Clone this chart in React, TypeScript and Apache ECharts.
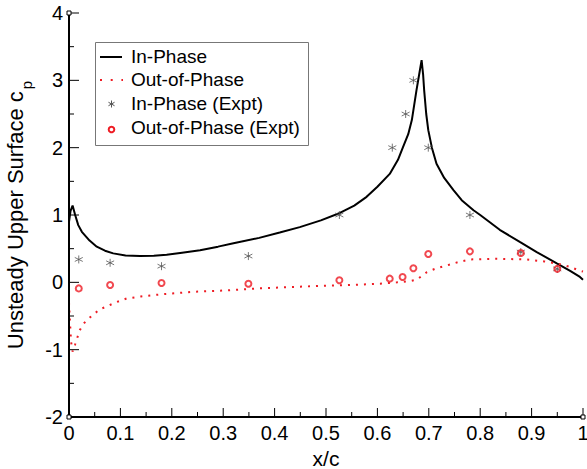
import React, { useEffect, useRef } from "react";
import * as echarts from "echarts";

const FONT = "'Liberation Sans', Arial, Helvetica, sans-serif";

// Axis ranges and tick values
const X_MIN = 0;
const X_MAX = 1;
const Y_MIN = -2;
const Y_MAX = 4;
const xMajorTicks = [0, 0.1, 0.2, 0.3, 0.4, 0.5, 0.6, 0.7, 0.8, 0.9, 1];
const xMinorTicks = [0.05, 0.15, 0.25, 0.35, 0.45, 0.55, 0.65, 0.75, 0.85, 0.95];
const yMajorTicks = [-2, -1, 0, 1, 2, 3, 4];
const yMinorTicks = [-1.5, -0.5, 0.5, 1.5, 2.5, 3.5];

// In-Phase (computed) curve: [x/c, cp]
const inPhaseX = [0, 0.003, 0.007, 0.012, 0.018, 0.025, 0.04, 0.054, 0.07, 0.086, 0.11, 0.138, 0.165, 0.19, 0.22, 0.255, 0.29, 0.32, 0.37, 0.41, 0.449, 0.49, 0.527, 0.555, 0.579, 0.6, 0.624, 0.64, 0.65, 0.66, 0.667, 0.676, 0.682, 0.686, 0.689, 0.691, 0.695, 0.699, 0.706, 0.715, 0.73, 0.748, 0.764, 0.787, 0.8, 0.838, 0.877, 0.91, 0.949, 0.975, 0.994, 1.0];
const inPhaseY = [0.9, 1.06, 1.14, 1.0, 0.85, 0.75, 0.62, 0.53, 0.47, 0.43, 0.4, 0.39, 0.395, 0.41, 0.44, 0.475, 0.53, 0.58, 0.66, 0.74, 0.82, 0.92, 1.03, 1.14, 1.27, 1.42, 1.61, 1.82, 2.01, 2.2, 2.41, 2.85, 3.12, 3.3, 3.08, 2.85, 2.5, 2.26, 2.0, 1.76, 1.55, 1.37, 1.22, 1.07, 1.0, 0.78, 0.6, 0.45, 0.28, 0.17, 0.08, 0.04];

// Out-of-Phase (computed) curve
const outPhaseX = [0, 0.002, 0.004, 0.007, 0.012, 0.021, 0.03, 0.041, 0.06, 0.073, 0.09, 0.112, 0.14, 0.177, 0.21, 0.242, 0.307, 0.37, 0.43, 0.5, 0.56, 0.605, 0.638, 0.665, 0.677, 0.687, 0.696, 0.715, 0.735, 0.757, 0.78, 0.832, 0.89, 0.925, 0.955, 0.975, 0.991, 1.0];
const outPhaseY = [-0.3, -0.6, -0.88, -1.03, -0.92, -0.71, -0.6, -0.52, -0.4, -0.36, -0.3, -0.24, -0.21, -0.18, -0.16, -0.14, -0.12, -0.09, -0.07, -0.05, -0.035, -0.02, 0.0, 0.02, 0.04, 0.1, 0.15, 0.21, 0.25, 0.3, 0.34, 0.35, 0.34, 0.31, 0.27, 0.23, 0.18, 0.16];

// Experimental In-Phase
const exptInX = [0.019, 0.08, 0.18, 0.349, 0.526, 0.629, 0.655, 0.67, 0.699, 0.78, 0.879, 0.95];
const exptInY = [0.34, 0.29, 0.24, 0.39, 1.0, 2.0, 2.5, 3.0, 2.0, 1.0, 0.45, 0.2];

// Experimental Out-of-Phase
const exptOutX = [0.019, 0.08, 0.18, 0.349, 0.526, 0.624, 0.649, 0.67, 0.699, 0.78, 0.879, 0.95];
const exptOutY = [-0.09, -0.04, -0.01, -0.02, 0.03, 0.055, 0.08, 0.21, 0.42, 0.46, 0.435, 0.2];

const legendNames = ["In-Phase", "Out-of-Phase", "In-Phase (Expt)", "Out-of-Phase (Expt)"];

const zip = (xs: number[], ys: number[]) => xs.map((x, i) => [x, ys[i]]);

const ASTERISK = "path://M5,0L5,10M0.67,2.5L9.33,7.5M0.67,7.5L9.33,2.5";
const RED = "#ee1c24";
const GREY = "#555555";

// Axis frame (lines + inside ticks) drawn through the chart's own scales, as thin filled rects
const renderAxes = (_params: any, api: any) => {
  const [x0, y0] = api.coord([X_MIN, Y_MIN]);
  const [x1] = api.coord([X_MAX, Y_MIN]);
  const [, y1] = api.coord([X_MIN, Y_MAX]);
  const black = { fill: "#000" };
  const children: any[] = [
    { type: "rect", shape: { x: x0 - 1, y: y0 - 1, width: x1 - x0 + 2, height: 2 }, style: black },
    { type: "rect", shape: { x: x0 - 1, y: y1, width: 2, height: y0 - y1 + 1 }, style: black },
  ];
  xMajorTicks.forEach((v) => {
    const px = api.coord([v, Y_MIN])[0];
    children.push({ type: "rect", shape: { x: px - 0.5, y: y0 - 9, width: 1, height: 9 }, style: black });
  });
  xMinorTicks.forEach((v) => {
    const px = api.coord([v, Y_MIN])[0];
    children.push({ type: "rect", shape: { x: px - 0.5, y: y0 - 5, width: 1, height: 5 }, style: black });
  });
  yMajorTicks.forEach((v) => {
    const py = api.coord([X_MIN, v])[1];
    children.push({ type: "rect", shape: { x: x0, y: py - 0.5, width: 10, height: 1 }, style: black });
  });
  yMinorTicks.forEach((v) => {
    const py = api.coord([X_MIN, v])[1];
    children.push({ type: "rect", shape: { x: x0, y: py - 0.5, width: 5, height: 1 }, style: black });
  });
  // small open squares at the axis ends
  [[x0, y1], [x0, y0], [x1, y0]].forEach(([cx, cy]) => {
    children.push({ type: "rect", shape: { x: cx - 2, y: cy - 2, width: 4, height: 4 }, style: { fill: "#fff", stroke: "#000", lineWidth: 1 } });
  });
  return { type: "group", children };
};

export default function App() {
  const ref = useRef<HTMLDivElement>(null);
  useEffect(() => {
    if (!ref.current) return;
    const chart = echarts.init(ref.current, undefined, { renderer: "svg" });

    const lx = 100;
    const rowY = [57, 80, 104, 128];
    const ax = 111.5;
    const ar = 3.5;
    const ay = rowY[2];
    const graphic: any[] = [
      {
        type: "rect",
        shape: { x: 95.5, y: 42.5, width: 213, height: 103 },
        style: { fill: "#fff", stroke: "#777", lineWidth: 1 },
        z: 10,
      },
      {
        type: "line",
        shape: { x1: lx, y1: rowY[0], x2: lx + 22, y2: rowY[0] },
        style: { stroke: "#000", lineWidth: 2 },
        z: 11,
      },
      {
        type: "line",
        shape: { x1: lx, y1: rowY[1], x2: lx + 23, y2: rowY[1] },
        style: { stroke: RED, lineWidth: 2, lineDash: [2, 8.7] },
        z: 11,
      },
      { type: "line", z: 11, shape: { x1: ax, y1: ay - ar, x2: ax, y2: ay + ar }, style: { stroke: GREY, lineWidth: 1 } },
      { type: "line", z: 11, shape: { x1: ax - ar * 0.87, y1: ay - ar * 0.5, x2: ax + ar * 0.87, y2: ay + ar * 0.5 }, style: { stroke: GREY, lineWidth: 1 } },
      { type: "line", z: 11, shape: { x1: ax - ar * 0.87, y1: ay + ar * 0.5, x2: ax + ar * 0.87, y2: ay - ar * 0.5 }, style: { stroke: GREY, lineWidth: 1 } },
      {
        type: "circle",
        shape: { cx: ax, cy: rowY[3] + 1.5, r: 2.8 },
        style: { fill: "transparent", stroke: RED, lineWidth: 2 },
        z: 11,
      },
      ...legendNames.map((name, i) => ({
        type: "text",
        x: 131,
        y: [56.5, 79.5, 103, 127.5][i],
        z: 11,
        style: {
          text: name,
          fill: "#000",
          font: `19px ${FONT}`,
          verticalAlign: "middle",
          align: "left",
        },
      })),
    ];

    chart.setOption({
      animation: false,
      grid: { left: 69, right: 4, top: 13, bottom: 52, outerBoundsMode: "none" },
      xAxis: {
        type: "value",
        position: "bottom",
        min: X_MIN,
        max: X_MAX,
        interval: 0.1,
        name: "x/c",
        nameLocation: "middle",
        nameGap: 20,
        nameTextStyle: { fontFamily: FONT, fontSize: 21, color: "#000" },
        axisLine: { show: false, onZero: false },
        axisTick: { show: false },
        minorTick: { show: false },
        splitLine: { show: false },
        axisLabel: {
          margin: 6,
          fontFamily: FONT,
          fontSize: 20,
          color: "#000",
          formatter: (v: number) => (v === 0 ? "0" : v === 1 ? "1" : v.toFixed(1)),
        },
      },
      yAxis: {
        type: "value",
        position: "left",
        min: Y_MIN,
        max: Y_MAX,
        interval: 1,
        name: "{a|Unsteady Upper Surface c}{s|p}",
        nameLocation: "middle",
        nameRotate: 90,
        nameGap: 31,
        nameTextStyle: {
          color: "#000",
          rich: {
            a: { fontFamily: FONT, fontSize: 22, lineHeight: 22, verticalAlign: "top", color: "#000" },
            s: { fontFamily: FONT, fontSize: 15, lineHeight: 15, padding: [15, 0, 0, 2], verticalAlign: "top", color: "#000" },
          },
        },
        axisLine: { show: false, onZero: false },
        axisTick: { show: false },
        minorTick: { show: false },
        splitLine: { show: false },
        axisLabel: { margin: 6, fontFamily: FONT, fontSize: 20, color: "#000" },
      },
      series: [
        {
          name: legendNames[0],
          type: "line",
          data: zip(inPhaseX, inPhaseY),
          showSymbol: false,
          lineStyle: { color: "#000", width: 2 },
          z: 3,
        },
        {
          name: legendNames[1],
          type: "line",
          data: zip(outPhaseX, outPhaseY),
          showSymbol: false,
          lineStyle: { color: RED, width: 2, type: [2, 6] },
          z: 3,
        },
        {
          name: legendNames[2],
          type: "scatter",
          data: zip(exptInX, exptInY),
          symbol: ASTERISK,
          symbolSize: 8,
          itemStyle: { color: "transparent", borderColor: GREY, borderWidth: 1 },
          z: 4,
        },
        {
          name: legendNames[3],
          type: "scatter",
          data: zip(exptOutX, exptOutY),
          symbol: "circle",
          symbolSize: 6,
          itemStyle: { color: "transparent", borderColor: RED, borderWidth: 2 },
          z: 5,
        },
        {
          name: "axes",
          type: "custom",
          data: [[X_MIN, Y_MIN]],
          renderItem: renderAxes,
          silent: true,
          clip: false,
          z: 6,
        },
      ],
      graphic,
    });
    return () => chart.dispose();
  }, []);
  return <div ref={ref} style={{ width: 587, height: 469, position: "absolute", left: 0, top: 0 }} />;
}
